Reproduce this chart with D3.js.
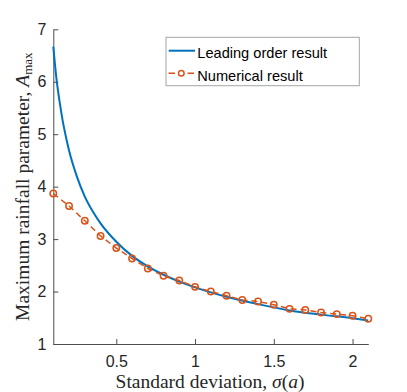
<!DOCTYPE html>
<html>
<head>
<meta charset="utf-8">
<script src="https://cdn.jsdelivr.net/npm/d3@7"></script>
<style>
  body { margin: 0; background: #fff; }
  .tick text { font-family: "Liberation Sans", Arial, sans-serif; font-size: 16px; fill: #262626; }
  .lab { font-family: "Liberation Serif", "DejaVu Serif", serif; font-size: 19.5px; fill: #262626; }
  .leg { font-family: "Liberation Sans", Arial, sans-serif; font-size: 14.6px; fill: #000; }
</style>
</head>
<body>
<script>
  // leading order result
  var leadSigma = [0.10, 0.12, 0.14, 0.16, 0.18, 0.20, 0.25, 0.30, 0.35, 0.40, 0.50, 0.60, 0.70, 0.80, 0.90, 1.00, 1.20, 1.40, 1.60, 1.80, 2.00, 2.10];
  var leadA = [6.67, 6.06, 5.62, 5.25, 4.95, 4.69, 4.19, 3.81, 3.53, 3.30, 2.95, 2.68, 2.48, 2.32, 2.19, 2.08, 1.90, 1.76, 1.64, 1.56, 1.49, 1.45];

  // numerical result
  var numSigma = [0.1, 0.2, 0.3, 0.4, 0.5, 0.6, 0.7, 0.8, 0.9, 1.0, 1.1, 1.2, 1.3, 1.4, 1.5, 1.6, 1.7, 1.8, 1.9, 2.0, 2.1];
  var numA = [3.87, 3.63, 3.35, 3.06, 2.83, 2.63, 2.44, 2.30, 2.21, 2.09, 2.00, 1.92, 1.84, 1.81, 1.75, 1.67, 1.65, 1.60, 1.57, 1.54, 1.48];

  var xTicks = [0.5, 1, 1.5, 2];
  var yTicks = [1, 2, 3, 4, 5, 6, 7];
  var legendLabels = ["Leading order result", "Numerical result"];

  var width = 407, height = 392;
  var margin = {left: 53.3, right: 38.7, top: 29.3, bottom: 48};

  var svg = d3.select("body").append("svg")
    .attr("width", width)
    .attr("height", height);

  var x = d3.scaleLinear().domain([0.1, 2.1]).range([margin.left, width - margin.right]);
  var y = d3.scaleLinear().domain([1, 7]).range([height - margin.bottom, margin.top]);

  //axes, ticks pointing inwards like matlab
  var xAxis = svg.append("g")
    .attr("transform", "translate(0," + y(1) + ")")
    .call(d3.axisBottom(x).tickValues(xTicks).tickSizeInner(-5).tickSizeOuter(0).tickPadding(12).tickFormat(d3.format("")));
  var yAxis = svg.append("g")
    .attr("transform", "translate(" + x(0.1) + ",0)")
    .call(d3.axisLeft(y).tickValues(yTicks).tickSizeInner(-5).tickSizeOuter(0).tickPadding(7).tickFormat(d3.format("d")));

  [xAxis, yAxis].forEach(function(g) {
    g.select(".domain").attr("stroke", "#4d4d4d").attr("stroke-width", 1);
    g.selectAll(".tick line").attr("stroke", "#4d4d4d");
  });
  xAxis.selectAll(".tick text").attr("dy", "0.71em");

  var line = d3.line()
    .x(function(d) { return x(d[0]); })
    .y(function(d) { return y(d[1]); });

  var numData = numSigma.map(function(s, i) { return [s, numA[i]]; });
  var leadData = leadSigma.map(function(s, i) { return [s, leadA[i]]; });

  svg.append("path")
    .datum(leadData)
    .attr("fill", "none")
    .attr("stroke", "#0072BD")
    .attr("stroke-width", 2)
    .attr("d", line.curve(d3.curveMonotoneX));

  svg.append("path")
    .datum(numData)
    .attr("fill", "none")
    .attr("stroke", "#D95319")
    .attr("stroke-width", 1.5)
    .attr("stroke-dasharray", "6,4")
    .attr("d", line.curve(d3.curveLinear));

  svg.selectAll("circle.num")
    .data(numData)
    .enter().append("circle")
    .attr("class", "num")
    .attr("cx", function(d) { return x(d[0]); })
    .attr("cy", function(d) { return y(d[1]); })
    .attr("r", 3.2)
    .attr("fill", "none")
    .attr("stroke", "#D95319")
    .attr("stroke-width", 1.5);

  // axis labels
  svg.append("text")
    .attr("class", "lab")
    .attr("x", 210)
    .attr("y", 388)
    .attr("text-anchor", "middle")
    .html('Standard deviation, <tspan font-style="italic">σ</tspan>(<tspan font-style="italic">a</tspan>)');

  svg.append("text")
    .attr("class", "lab")
    .attr("transform", "translate(29," + (y(1) + y(7)) / 2 + ") rotate(-90)")
    .attr("text-anchor", "middle")
    .html('Maximum rainfall parameter, <tspan font-style="italic">A</tspan><tspan font-size="13px" dy="3">max</tspan>');

  // legend
  var leg = svg.append("g");
  leg.append("rect")
    .attr("x", 166).attr("y", 37.3)
    .attr("width", 193.3).attr("height", 48.4)
    .attr("fill", "#fff")
    .attr("stroke", "#a6a6a6")
    .attr("stroke-width", 1);

  leg.append("line")
    .attr("x1", 168.7).attr("x2", 195).attr("y1", 50.7).attr("y2", 50.7)
    .attr("stroke", "#0072BD").attr("stroke-width", 2);
  leg.append("line")
    .attr("x1", 168.5).attr("x2", 194).attr("y1", 73.3).attr("y2", 73.3)
    .attr("stroke", "#D95319").attr("stroke-width", 1.5).attr("stroke-dasharray", "6.5,12.5,6.5");
  leg.append("circle")
    .attr("cx", 181.3).attr("cy", 73.3).attr("r", 2.8)
    .attr("fill", "none").attr("stroke", "#D95319").attr("stroke-width", 1.5);

  leg.selectAll("text.leg")
    .data(legendLabels)
    .enter().append("text")
    .attr("class", "leg")
    .attr("x", 197.3)
    .attr("y", function(d, i) { return 58.3 + i * 22.4; })
    .text(function(d) { return d; });
</script>
</body>
</html>
